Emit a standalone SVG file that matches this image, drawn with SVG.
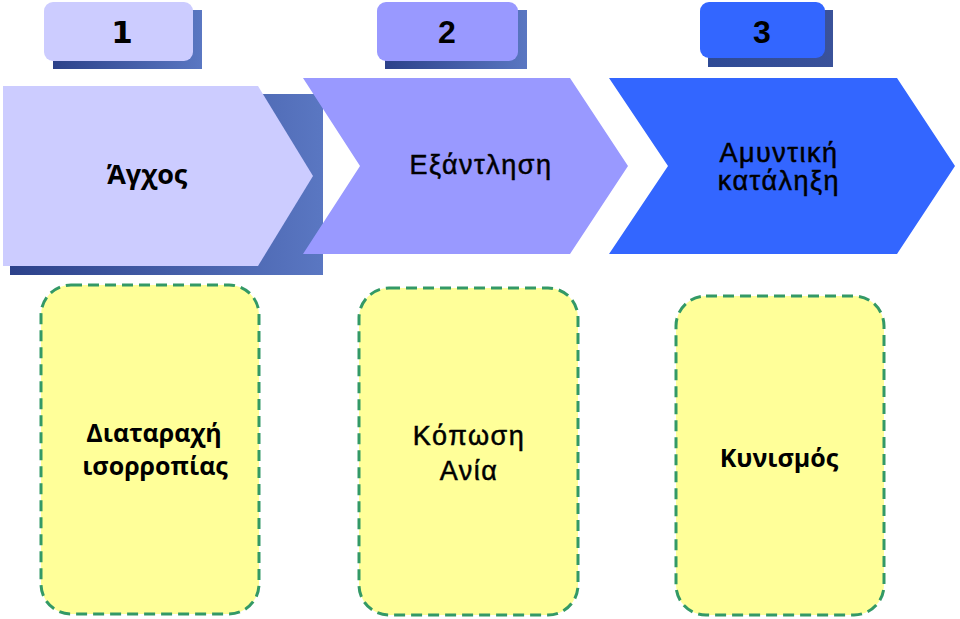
<svg xmlns="http://www.w3.org/2000/svg" width="960" height="619" viewBox="0 0 960 619">
<defs>
<linearGradient id="shd" x1="0" y1="0" x2="1" y2="0">
<stop offset="0" stop-color="#2C418A"/>
<stop offset="1" stop-color="#5A77C2"/>
</linearGradient>
<linearGradient id="shd3" x1="0" y1="0" x2="1" y2="0">
<stop offset="0" stop-color="#2E4A95"/>
<stop offset="1" stop-color="#3A529A"/>
</linearGradient>
</defs>
<style>
.num{font-family:"Liberation Sans",Arial,sans-serif;font-weight:bold;font-size:32px;fill:#000;text-anchor:middle}
.os{font-family:"Open Sans","DejaVu Sans",sans-serif;font-weight:bold;font-size:25px;fill:#000;text-anchor:middle}
.ar{font-family:"Liberation Sans",Arial,sans-serif;font-size:27px;letter-spacing:1.5px;fill:#000;stroke:#000;stroke-width:0.5;text-anchor:middle}
.box{fill:#FFFF99;stroke:#339966;stroke-width:3;stroke-dasharray:11 6}
</style>
<g id="tab1">
<rect x="53" y="10" width="149" height="59" fill="url(#shd)"/>
<rect x="44" y="2" width="149" height="59" rx="9" fill="#CCCCFF"/>
<text class="num" x="122" y="43" style="font-family:'DejaVu Sans',sans-serif;font-size:31px">1</text>
</g>
<g id="tab2">
<rect x="385" y="10" width="142" height="59" fill="url(#shd)"/>
<rect x="377" y="2" width="141" height="59" rx="9" fill="#9999FF"/>
<text class="num" x="447" y="43">2</text>
</g>
<g id="tab3">
<rect x="708" y="10" width="125" height="57" fill="url(#shd3)"/>
<rect x="700" y="2" width="125" height="56" rx="9" fill="#3366FF"/>
<text class="num" x="762" y="43">3</text>
</g>
<g id="step1">
<rect x="10" y="94" width="313" height="181" fill="url(#shd)"/>
<polygon points="3,86 258,86 313,176 258,266 3,266" fill="#CCCCFF"/>
<text class="os" x="147" y="184" style="font-size:27px">Άγχος</text>
</g>
<g id="step2">
<polygon points="303,78 570,78 628,166 570,254 303,254 360,166" fill="#9999FF"/>
<text class="ar" x="481" y="174">Εξάντληση</text>
</g>
<g id="step3">
<polygon points="609,78 897,78 955,166 897,254 609,254 668,166" fill="#3366FF"/>
<text class="ar" x="779" y="162">Αμυντική</text>
<text class="ar" x="779" y="190">κατάληξη</text>
</g>
<g id="box1">
<rect class="box" x="41" y="285" width="218" height="329" rx="30"/>
<text class="os" x="154" y="442">Διαταραχή</text>
<text class="os" x="155" y="475">ισορροπίας</text>
</g>
<g id="box2">
<rect class="box" x="359" y="288" width="219" height="327" rx="30"/>
<text class="ar" x="469" y="445">Κόπωση</text>
<text class="ar" x="469" y="480">Ανία</text>
</g>
<g id="box3">
<rect class="box" x="676" y="296" width="208" height="319" rx="30"/>
<text class="os" x="779" y="467">Κυνισμός</text>
</g>
<g id="connectors"/>
</svg>
